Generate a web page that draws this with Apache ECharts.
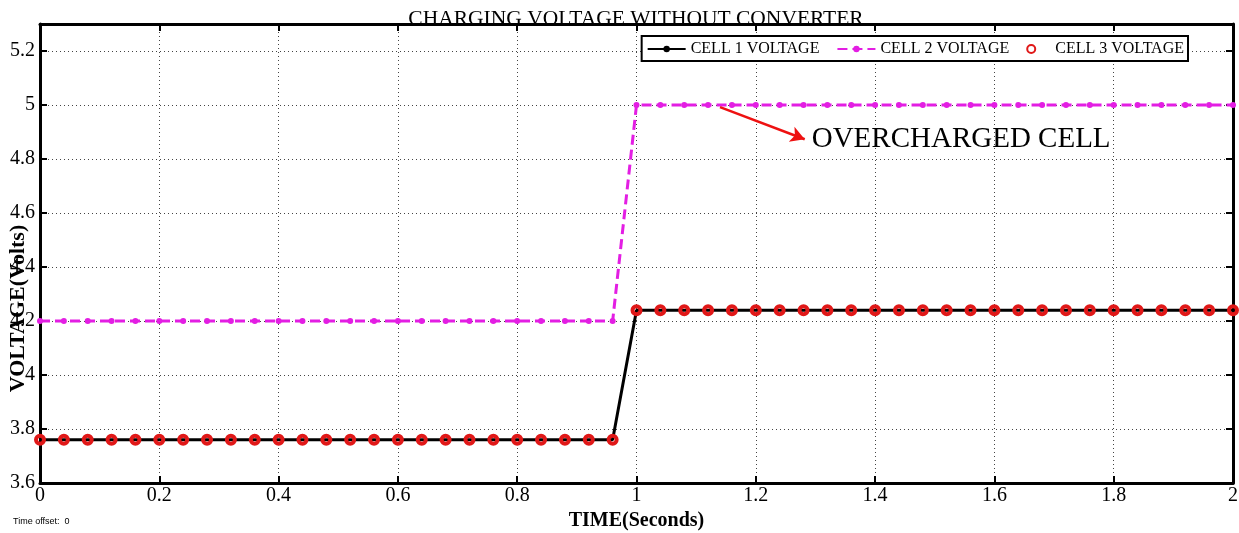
<!DOCTYPE html>
<html>
<head>
<meta charset="utf-8">
<script src="https://cdn.jsdelivr.net/npm/echarts@6/dist/echarts.min.js"></script>
<style>html,body{margin:0;padding:0;background:#fff;}#chart{width:1239px;height:533px;}</style>
</head>
<body>
<div id="chart"></div>
<script>
// ---- data ----
var time = [0,0.04,0.08,0.12,0.16,0.2,0.24,0.28,0.32,0.36,0.4,0.44,0.48,0.52,0.56,0.6,0.64,0.68,0.72,0.76,0.8,0.84,0.88,0.92,0.96,
            1,1.04,1.08,1.12,1.16,1.2,1.24,1.28,1.32,1.36,1.4,1.44,1.48,1.52,1.56,1.6,1.64,1.68,1.72,1.76,1.8,1.84,1.88,1.92,1.96,2];
var cell1 = [3.76,3.76,3.76,3.76,3.76,3.76,3.76,3.76,3.76,3.76,3.76,3.76,3.76,3.76,3.76,3.76,3.76,3.76,3.76,3.76,3.76,3.76,3.76,3.76,3.76,
             4.24,4.24,4.24,4.24,4.24,4.24,4.24,4.24,4.24,4.24,4.24,4.24,4.24,4.24,4.24,4.24,4.24,4.24,4.24,4.24,4.24,4.24,4.24,4.24,4.24,4.24];
var cell2 = [4.2,4.2,4.2,4.2,4.2,4.2,4.2,4.2,4.2,4.2,4.2,4.2,4.2,4.2,4.2,4.2,4.2,4.2,4.2,4.2,4.2,4.2,4.2,4.2,4.2,
             5,5,5,5,5,5,5,5,5,5,5,5,5,5,5,5,5,5,5,5,5,5,5,5,5,5];
var cell3 = [3.76,3.76,3.76,3.76,3.76,3.76,3.76,3.76,3.76,3.76,3.76,3.76,3.76,3.76,3.76,3.76,3.76,3.76,3.76,3.76,3.76,3.76,3.76,3.76,3.76,
             4.24,4.24,4.24,4.24,4.24,4.24,4.24,4.24,4.24,4.24,4.24,4.24,4.24,4.24,4.24,4.24,4.24,4.24,4.24,4.24,4.24,4.24,4.24,4.24,4.24,4.24];
var seriesNames = ['CELL 1 VOLTAGE','CELL 2 VOLTAGE','CELL 3 VOLTAGE'];
var xTickLabels = ['0','0.2','0.4','0.6','0.8','1','1.2','1.4','1.6','1.8','2'];
var yTickLabels = ['3.6','3.8','4','4.2','4.4','4.6','4.8','5','5.2'];
var arrowFrom = [1.14, 4.992];
var arrowTo = [1.282, 4.873];
var annotationText = 'OVERCHARGED CELL';

function pairs(xs, ys){ return xs.map(function(x,i){ return [x, ys[i]]; }); }

var SERIF = "'Liberation Serif','Times New Roman',serif";
var chart = echarts.init(document.getElementById('chart'), null, {renderer:'canvas'});

var axisLineStyle = {color:'#000', width:3};
function tick(){ return {show:true, inside:true, length:7, lineStyle:{color:'#000', width:2}}; }
var gridStyle = {show:true, lineStyle:{color:'#444', width:1, type:[1,3]}};

chart.setOption({
  animation:false,
  backgroundColor:'#fff',
  title:[
    {text:'CHARGING VOLTAGE WITHOUT CONVERTER', left:631, textAlign:'center', top:3,
     textStyle:{fontFamily:SERIF, fontSize:21.5, fontWeight:'normal', color:'#000'}},
    {text:'Time offset:  0', left:8, top:512,
     textStyle:{fontFamily:"'Liberation Sans',Arial,sans-serif", fontSize:9, fontWeight:'normal', color:'#000'}}
  ],
  grid:{left:40, right:6, top:24, bottom:50, containLabel:false, outerBoundsMode:'none'},
  legend:{
    data:seriesNames, right:51, top:36,
    backgroundColor:'#fff', borderColor:'#000', borderWidth:2, borderRadius:0,
    padding:[5,4,4,5], itemGap:17, itemWidth:38, itemHeight:8,
    textStyle:{fontFamily:SERIF, fontSize:16, color:'#000'}, z:20
  },
  xAxis:[
    {type:'value', min:0, max:2, interval:0.2, position:'bottom',
     name:'TIME(Seconds)', nameLocation:'middle', nameGap:28, nameMoveOverlap:false,
     nameTextStyle:{fontFamily:SERIF, fontSize:20, fontWeight:'bold', color:'#000'},
     axisLine:{show:true, onZero:false, lineStyle:axisLineStyle}, axisTick:tick(),
     axisLabel:{fontFamily:SERIF, fontSize:20, color:'#000', margin:3,
       formatter:function(v){ var i=Math.round(v/0.2); return xTickLabels[i]!==undefined?xTickLabels[i]:''; }},
     splitLine:gridStyle},
    {type:'value', min:0, max:2, interval:0.2, position:'top',
     axisLine:{show:true, onZero:false, lineStyle:axisLineStyle}, axisTick:tick(),
     axisLabel:{show:false}, splitLine:{show:false}}
  ],
  yAxis:[
    {type:'value', min:3.6, max:5.3, interval:0.2, position:'left',
     name:'VOLTAGE(Volts)', nameLocation:'middle', nameGap:11, nameRotate:90, nameMoveOverlap:false,
     nameTextStyle:{fontFamily:SERIF, fontSize:22, fontWeight:'bold', color:'#000', padding:[0,110,0,0]},
     axisLine:{show:true, onZero:false, lineStyle:axisLineStyle}, axisTick:tick(),
     axisLabel:{fontFamily:SERIF, fontSize:20, color:'#000', margin:5, showMaxLabel:false,
       formatter:function(v){ var i=Math.round((v-3.6)/0.2); return yTickLabels[i]!==undefined?yTickLabels[i]:''; }},
     splitLine:gridStyle},
    {type:'value', min:3.6, max:5.3, interval:0.2, position:'right',
     axisLine:{show:true, onZero:false, lineStyle:axisLineStyle}, axisTick:tick(),
     axisLabel:{show:false}, splitLine:{show:false}}
  ],
  series:[
    {name:seriesNames[0], type:'line', data:pairs(time, cell1), symbol:'none',
     lineStyle:{color:'#000', width:3}, itemStyle:{color:'#000'}, z:3, clip:false},
    {name:seriesNames[1], type:'line', data:pairs(time, cell2), symbol:'circle', symbolSize:6, showSymbol:true,
     lineStyle:{color:'#e31ee3', width:3, type:[10,5]}, itemStyle:{color:'#e31ee3'}, z:4, clip:false,
     markLine:{silent:true, symbol:['none','arrow'], symbolSize:[12,14],
       lineStyle:{color:'#ee1111', width:2.5, type:'solid'}, label:{show:false},
       data:[[{coord:arrowFrom},{coord:arrowTo}]]},
     markPoint:{silent:true, symbol:'circle', symbolSize:0,
       label:{show:true, position:'right', distance:7, formatter:annotationText,
         fontFamily:SERIF, fontSize:29, color:'#000'},
       data:[{coord:arrowTo}]}},
    {name:seriesNames[2], type:'scatter', data:pairs(time, cell3), symbol:'circle', symbolSize:8,
     itemStyle:{color:'rgba(0,0,0,0)', borderColor:'#e01818', borderWidth:4, opacity:1}, z:5, clip:false}
  ]
});
</script>
</body>
</html>
